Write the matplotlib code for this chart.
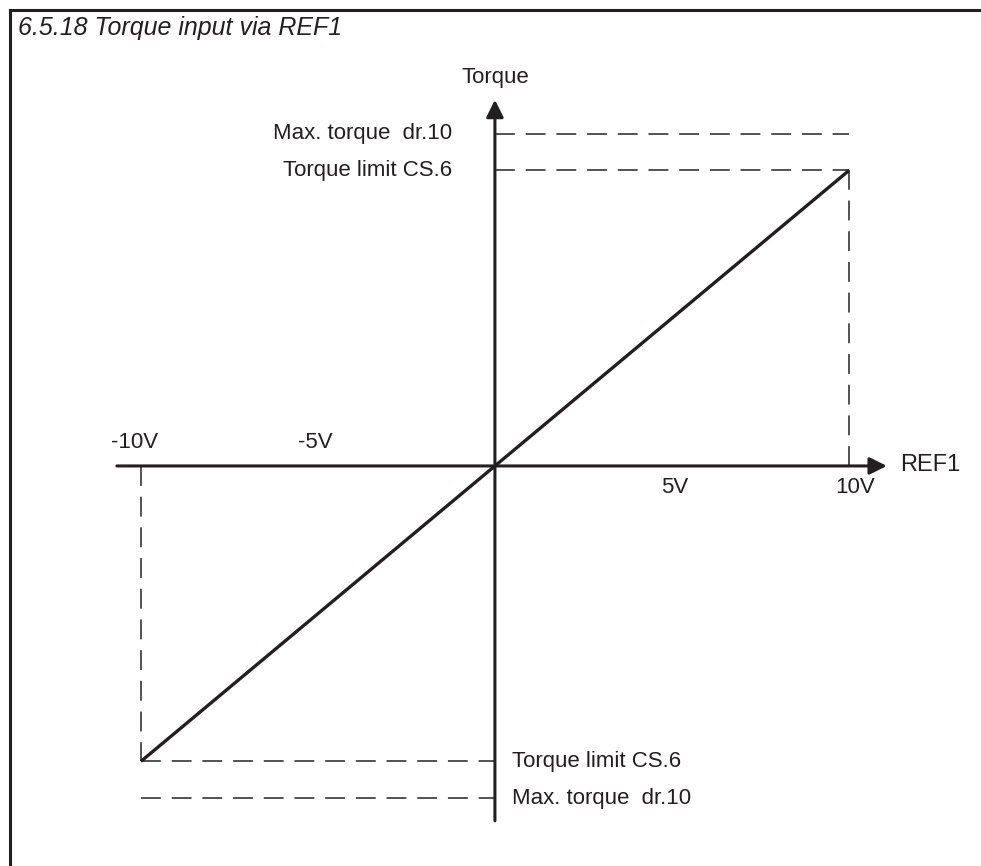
import matplotlib
matplotlib.use("Agg")
import matplotlib.pyplot as plt

# ---- data ----
ref1_volts = [-10, 10]           # REF1 input range (V)
torque_pct = [-100, 100]         # torque at the input range (% of torque limit)
torque_limit = 100               # Torque limit CS.6
max_torque = 112.5               # Max. torque dr.10
x_tick_vals = [-10, -5, 5, 10]
x_tick_labels = ["-10V", "-5V", "5V", "10V"]
title = "6.5.18 Torque input via REF1"
x_label = "REF1"
y_label = "Torque"
lim_label = "Torque limit CS.6"
max_label = "Max. torque  dr.10"

W, H = 981, 866
fig = plt.figure(figsize=(W / 100, H / 100), dpi=100)
ax = fig.add_axes([0, 0, 1, 1])
ax.set_xlim(-13.98, 13.73)
ax.set_ylim(-135.4, 157.7)
ax.axis("off")

plt.rcParams["font.family"] = ["Liberation Sans", "DejaVu Sans"]
ink = "#231f20"
dash_col = "#444444"
fs = 16

# frame (top and left edges)
fig.add_artist(plt.Line2D([10 / W, 1], [1 - 10 / H, 1 - 10 / H], color=ink, lw=2.2))
fig.add_artist(plt.Line2D([10 / W, 10 / W], [0, 1 - 10 / H], color=ink, lw=2.2))

fig.text(18 / W, 1 - 28 / H, title, ha="left", va="center", fontsize=18,
         style="italic", color=ink, family=["Liberation Sans", "DejaVu Sans"])

# axes with arrows
ax.annotate("", xy=(11.07, 0), xytext=(-10.68, 0),
            arrowprops=dict(arrowstyle="-|>", lw=2.2, color=ink, mutation_scale=26,
                            shrinkA=0, shrinkB=0))
ax.annotate("", xy=(0, 123.9), xytext=(0, -120.1),
            arrowprops=dict(arrowstyle="-|>", lw=2.2, color=ink, mutation_scale=26,
                            shrinkA=0, shrinkB=0))

# dashed reference lines
dash = dict(color=dash_col, lw=1.3, dashes=(11, 6))
xmax, xmin = max(ref1_volts), min(ref1_volts)
ax.plot([0, xmax], [max_torque, max_torque], **dash)
ax.plot([0, xmax], [torque_limit, torque_limit], **dash)
ax.plot([xmax, xmax], [0, torque_limit], **dash)
ax.plot([xmin, 0], [-torque_limit, -torque_limit], **dash)
ax.plot([xmin, 0], [-max_torque, -max_torque], **dash)
ax.plot([xmin, xmin], [0, -torque_limit], **dash)

# characteristic line
ax.plot(ref1_volts, torque_pct, color=ink, lw=2.4, solid_capstyle="butt")

# labels
ax.text(0, 131.6, y_label, ha="center", va="center", fontsize=fs, color=ink)
ax.text(11.44, 0.3, x_label, ha="left", va="center", fontsize=fs + 1, color=ink)
for v, lab in zip(x_tick_vals, x_tick_labels):
    y = 8.1 if v < 0 else -7.4
    ax.text(v * 1.017, y, lab, ha="center", va="center", fontsize=fs, color=ink)

ax.text(-1.21, max_torque, max_label, ha="right", va="center", fontsize=fs, color=ink)
ax.text(-1.21, torque_limit, lim_label, ha="right", va="center", fontsize=fs, color=ink)
ax.text(0.48, -torque_limit, lim_label, ha="left", va="center", fontsize=fs, color=ink)
ax.text(0.48, -max_torque, max_label, ha="left", va="center", fontsize=fs, color=ink)

fig.savefig("out.png", dpi=100, facecolor="white")
